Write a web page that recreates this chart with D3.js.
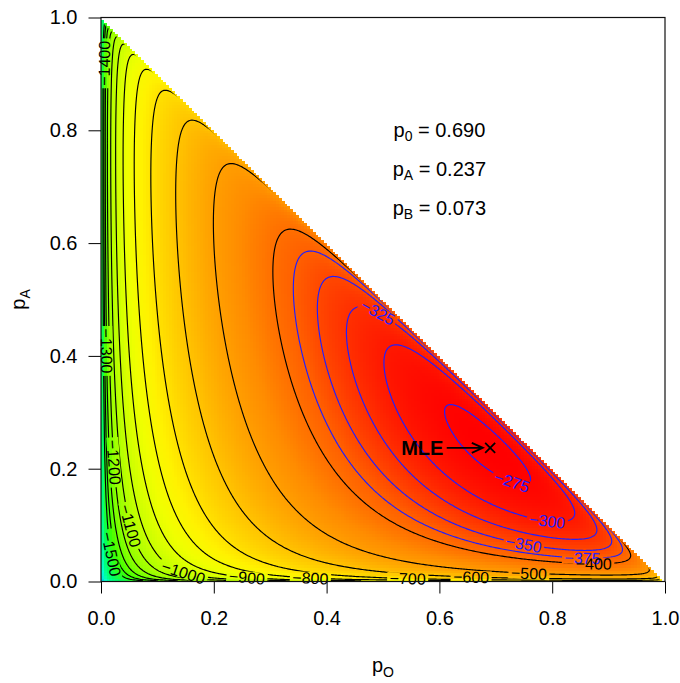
<!DOCTYPE html>
<html>
<head>
<meta charset="utf-8">
<title>ABO log-likelihood contours</title>
<script src="https://cdn.jsdelivr.net/npm/d3@7"></script>
<style>
	body { margin: 0; background: #fff; }
	svg text { font-family: "Liberation Sans", Arial, Helvetica, sans-serif; }
</style>
</head>
<body>
<div id="root"></div>
<script>
// phenotype counts: O, A, B, AB
const phenotypes = ["O", "A", "B", "AB"];
const counts = [119, 96, 26, 9];

// maximum likelihood estimates (pO, pA, pB) as printed on the chart
const mleNames = ["0", "A", "B"];
const mleValues = [0.690, 0.237, 0.073];

// contour levels
const blueLevels = [-275, -300, -325, -350, -375];
const blackLevels = [-400, -500, -600, -700, -800, -900, -1000, -1100, -1200, -1300,
	-1400, -1500];

// axis ticks
const tickValues = [0, 0.2, 0.4, 0.6, 0.8, 1.0];

// which contours get a label, and roughly where (pO, pA)
const labelSpots = [
	[-275, 0.729, 0.178], [-300, 0.791, 0.109], [-325, 0.484, 0.464],
	[-350, 0.75, 0.066], [-375, 0.853, 0.045], [-400, 0.874, 0.033],
	[-500, 0.76, 0.015], [-600, 0.656, 0.008], [-700, 0.545, 0.008],
	[-800, 0.372, 0.008], [-900, 0.259, 0.01], [-1000, 0.149, 0.027],
	[-1100, 0.058, 0.10], [-1200, 0.021, 0.21], [-1300, 0.01, 0.41],
	[-1400, 0.005, 0.92], [-1500, 0.03, 0.052]
];

const width = 680, height = 683;
const x = d3.scaleLinear().domain([0, 1]).range([101, 665]);
const y = d3.scaleLinear().domain([0, 1]).range([581.5, 17.5]);

// colour ramp: red at the top of the surface, through yellow and green to blue
const color = d3.scaleLinear()
	.domain([-270, -300, -325, -375, -450, -600, -750, -850, -1000, -1200, -1400, -1700, -2200, -3000, -4500])
	.range(["#ff0000", "#ff1800", "#ff3000", "#ff6000", "#ff8c00", "#ffc400", "#fff200",
		"#f0ff00", "#c8ff00", "#90ff00", "#40ff00", "#00ff60", "#00ffd0", "#00a0ff", "#0000ff"])
	.clamp(true);

// log-likelihood of the ABO phenotype counts (Hardy-Weinberg)
function loglik(pO, pA) {
	const pB = Math.abs(1 - pO - pA);
	const probs = [pO * pO, pA * pA + 2 * pA * pO, pB * pB + 2 * pB * pO, 2 * pA * pB];
	return d3.sum(counts, (n, k) => n * Math.log(probs[k]));
}

const svg = d3.select("#root").append("svg")
	.attr("width", width)
	.attr("height", height);

// image cells
const N = 200;
const cells = [];
for (let j = 0; j < N; j++) {
	for (let i = 0; i < N; i++) {
		const pO = (i + 0.5) / N, pA = (j + 0.5) / N;
		if (pO + pA < 1) cells.push({i: i, j: j, v: loglik(pO, pA)});
	}
}
const cw = x(1 / N) - x(0), ch = y(0) - y(1 / N);
svg.append("g")
	.selectAll("rect")
	.data(cells)
	.join("rect")
	.attr("x", d => x(d.i / N))
	.attr("y", d => y((d.j + 1) / N))
	.attr("width", cw + 0.3)
	.attr("height", ch + 0.3)
	.attr("fill", d => color(d.v))
	.attr("shape-rendering", "crispEdges");

// contour grid (finer)
const M = 400;
const grid = new Float64Array(M * M);
for (let j = 0; j < M; j++) {
	for (let i = 0; i < M; i++) {
		grid[j * M + i] = Math.max(loglik((i + 0.5) / M, (j + 0.5) / M), -1e5);
	}
}
const levels = blueLevels.concat(blackLevels);
const contours = d3.contours().size([M, M]).thresholds(levels)(grid);
const toPx = p => [x(p[0] / M), y(p[1] / M)];
const path = d3.geoPath(d3.geoTransform({
	point: function(px, py) { this.stream.point(x(px / M), y(py / M)); }
}));

// clip a little inside the hypotenuse, where the image grid stops
const edge = 0.994;
const defs = svg.append("defs");
defs.append("clipPath").attr("id", "tri")
	.append("path")
	.attr("d", "M" + x(0) + "," + y(0) + "L" + x(edge) + "," + y(0) + "L" + x(0) + "," + y(edge) + "Z");

const mask = defs.append("mask").attr("id", "lblmask")
	.attr("maskUnits", "userSpaceOnUse")
	.attr("x", 0).attr("y", 0).attr("width", width).attr("height", height);
mask.append("rect").attr("width", width).attr("height", height).attr("fill", "white");

const lineColor = v => blueLevels.includes(v) ? "#1f1fff" : "#000";

svg.append("g")
	.attr("clip-path", "url(#tri)")
	.append("g")
	.attr("mask", "url(#lblmask)")
	.selectAll("path")
	.data(contours)
	.join("path")
	.attr("d", path)
	.attr("fill", "none")
	.attr("stroke", d => lineColor(d.value))
	.attr("stroke-width", 1.15);

// contour labels
const labelG = svg.append("g");
labelSpots.forEach(([lev, lo, la]) => {
	const c = contours.find(d => d.value === lev);
	if (!c) return;
	const ax = x(lo), ay = y(la);
	let best = null, bestD = Infinity;
	c.coordinates.forEach(poly => poly.forEach(ring => {
		const pts = ring.map(toPx);
		pts.forEach((p, k) => {
			const q = [ring[k][0] / M, ring[k][1] / M];
			if (q[0] + q[1] > 0.99 || q[0] < 0.001 || q[1] < 0.001) return;
			const dd = (p[0] - ax) ** 2 + (p[1] - ay) ** 2;
			if (dd < bestD) { bestD = dd; best = {pts: pts, k: k}; }
		});
	}));
	if (!best) return;
	const pts = best.pts, n = pts.length;
	const p = pts[best.k];
	const a = pts[(best.k - 4 + n) % n], b = pts[(best.k + 4) % n];
	let ang = Math.atan2(b[1] - a[1], b[0] - a[0]) * 180 / Math.PI;
	if (ang > 90) ang -= 180;
	if (ang <= -90) ang += 180;
	const t = labelG.append("text")
		.attr("transform", "translate(" + p[0] + "," + p[1] + ") rotate(" + ang + ")")
		.attr("text-anchor", "middle")
		.attr("dy", "0.36em")
		.attr("font-size", "16px")
		.attr("fill", lineColor(lev))
		.text("\u2212" + Math.abs(lev));
	const w = t.node().getComputedTextLength() + 5;
	mask.append("rect")
		.attr("x", -w / 2).attr("y", -6).attr("width", w).attr("height", 12)
		.attr("transform", "translate(" + p[0] + "," + p[1] + ") rotate(" + ang + ")")
		.attr("fill", "black");
});

// axes
const fmt = d3.format(".1f");
const xAxis = svg.append("g")
	.attr("transform", "translate(0," + y(0) + ")")
	.call(d3.axisBottom(x).tickValues(tickValues).tickFormat(fmt).tickSize(12).tickPadding(17));
const yAxis = svg.append("g")
	.attr("transform", "translate(" + x(0) + ",0)")
	.call(d3.axisLeft(y).tickValues(tickValues).tickFormat(fmt).tickSize(12.5).tickPadding(11));
[xAxis, yAxis].forEach(g => {
	g.select(".domain").remove();
	g.selectAll("text").attr("font-size", "20px").attr("fill", "#000")
		.style("font-family", "'Liberation Sans', Arial, sans-serif");
	g.selectAll("line").attr("stroke", "#000");
});

// plot box
svg.append("rect")
	.attr("x", x(0)).attr("y", y(1))
	.attr("width", x(1) - x(0)).attr("height", y(0) - y(1))
	.attr("fill", "none").attr("stroke", "#111").attr("stroke-width", 1.2);

// axis titles
const xt = svg.append("text").attr("x", x(0.5)).attr("y", 672)
	.attr("text-anchor", "middle").attr("font-size", "20px");
xt.append("tspan").text("p");
xt.append("tspan").attr("font-size", "14px").attr("dy", 5).text("O");

const yt = svg.append("text").attr("transform", "translate(25," + y(0.5) + ") rotate(-90)")
	.attr("text-anchor", "middle").attr("font-size", "20px");
yt.append("tspan").text("p");
yt.append("tspan").attr("font-size", "14px").attr("dy", 5).text("A");

// estimates text
const textRows = [0.8, 0.731, 0.662];
mleNames.forEach((nm, k) => {
	const t = svg.append("text").attr("x", x(0.6)).attr("y", y(textRows[k]) + 7)
		.attr("text-anchor", "middle").attr("font-size", "20px");
	t.append("tspan").text("p");
	t.append("tspan").attr("font-size", "14px").attr("dy", 4).text(nm);
	t.append("tspan").attr("dy", -4).text(" = " + mleValues[k].toFixed(3));
});

// MLE marker and arrow
const mx = x(mleValues[0]), my = y(mleValues[1]);
svg.append("path")
	.attr("d", "M" + (mx - 5) + "," + (my - 5) + "L" + (mx + 5) + "," + (my + 5) +
		"M" + (mx - 5) + "," + (my + 5) + "L" + (mx + 5) + "," + (my - 5))
	.attr("stroke", "#000").attr("stroke-width", 1.8);
const ax0 = x(0.613), ax1 = x(0.677);
svg.append("path")
	.attr("d", "M" + ax0 + "," + my + "L" + ax1 + "," + my +
		"M" + (ax1 - 11) + "," + (my - 5) + "L" + ax1 + "," + my + "L" + (ax1 - 11) + "," + (my + 5))
	.attr("fill", "none").attr("stroke", "#000").attr("stroke-width", 1.8);
svg.append("text").attr("x", x(0.607)).attr("y", my + 7)
	.attr("text-anchor", "end").attr("font-size", "20px").attr("font-weight", "bold")
	.text("MLE");
</script>
</body>
</html>
